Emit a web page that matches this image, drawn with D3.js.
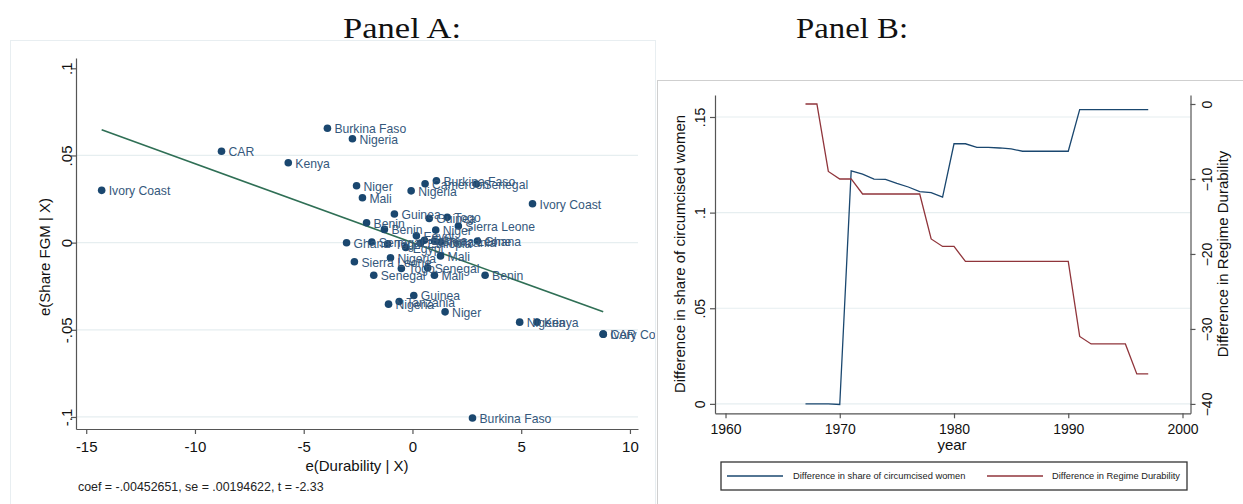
<!DOCTYPE html>
<html><head><meta charset="utf-8">
<script src="https://cdn.jsdelivr.net/npm/d3@7"></script>
<style>
html,body{margin:0;padding:0;background:#fff;}
svg{display:block;font-family:"Liberation Sans",Arial,sans-serif;}
</style></head>
<body>
<svg id="c" width="1243" height="504"></svg>
<script>
// ---------- Panel A data (added-variable plot) ----------
const countries = ["Ivory Coast","CAR","Kenya","Burkina Faso","Nigeria","Niger","Mali","Nigeria","Cameroon","Burkina Faso","Senegal","Ivory Coast","Guinea","Guinea","Togo","Benin","Benin","Niger","Sierra Leone","Ghana","Senegal","Togo","Egypt","Egypt","Eritrea","Sierra Leone","Ethiopia","Tanzania","Ghana","Mali","Nigeria","Sierra Leone","Togo","Senegal","Senegal","Mali","Benin","Guinea","Tanzania","Nigeria","Niger","Nigeria","Kenya","CAR","Ivory Coast","Burkina Faso"];
const durabilityResid = [-14.29,-8.78,-5.71,-3.91,-2.76,-2.57,-2.30,-0.06,0.58,1.10,2.94,5.52,-0.83,0.77,1.60,-2.11,-1.29,1.07,2.11,-3.03,-1.87,-1.14,-0.31,0.18,0.55,1.01,0.37,1.29,2.99,1.29,-1.01,-2.67,-0.51,0.70,-1.78,1.01,3.34,0.06,-0.61,-1.10,1.50,4.93,5.73,8.77,8.77,2.76];
const fgmResid = [0.0300,0.0524,0.0458,0.0656,0.0596,0.0326,0.0257,0.0297,0.0338,0.0355,0.0336,0.0223,0.0164,0.0139,0.0145,0.0114,0.0076,0.0072,0.0095,-0.0001,0.0003,-0.0007,-0.0028,0.0039,0.0014,0.0009,-0.0003,0.0003,0.0009,-0.0076,-0.0087,-0.0110,-0.0148,-0.0145,-0.0187,-0.0187,-0.0187,-0.0303,-0.0338,-0.0353,-0.0397,-0.0456,-0.0456,-0.0525,-0.0525,-0.1006];
const coef = -0.00452651;
const xTicksA = [-15,-10,-5,0,5,10];
const xTickLabelsA = ["-15","-10","-5","0","5","10"];
const yTicksA = [0.1,0.05,0,-0.05,-0.1];
const yTickLabelsA = [".1",".05","0","-.05","-.1"];
const noteA = "coef = -.00452651, se = .00194622, t = -2.33";

// ---------- Panel B data ----------
const years = [1967,1968,1969,1970,1971,1972,1973,1974,1975,1976,1977,1978,1979,1980,1981,1982,1983,1984,1985,1986,1987,1988,1989,1990,1991,1992,1993,1994,1995,1996,1997];
const diffShare = [0,0,0,-0.0003,0.1218,0.1201,0.1175,0.1174,0.1153,0.1134,0.1110,0.1105,0.1081,0.1360,0.1360,0.1341,0.1341,0.1338,0.1333,0.1321,0.1321,0.1321,0.1321,0.1321,0.1539,0.1539,0.1539,0.1539,0.1539,0.1539,0.1539];
const diffDurability = [0,0,-9,-10,-10,-12,-12,-12,-12,-12,-12,-18,-19,-19,-21,-21,-21,-21,-21,-21,-21,-21,-21,-21,-31,-32,-32,-32,-32,-36,-36];
const xTicksB = [1960,1970,1980,1990,2000];
const yTicksBL = [0,0.05,0.1,0.15];
const yTickLabelsBL = ["0",".05",".1",".15"];
const yTicksBR = [0,-10,-20,-30,-40];
const seriesNames = ["Difference in share of circumcised women","Difference in Regime Durability"];

const NAVY="#1a476f", MAROON="#90353b", GREEN="#2f6f55", GRID="#e6eef0", AXIS="#555";
const svg = d3.select("#c");

// panel frames
svg.append("rect").attr("x",10.5).attr("y",40.5).attr("width",645).attr("height",470).attr("fill","none").attr("stroke","#e8eef1");
svg.append("rect").attr("x",657.5).attr("y",80.5).attr("width",590).attr("height",430).attr("fill","none").attr("stroke","#cfcfcf");

// titles
svg.append("text").attr("x",402).attr("y",38).attr("text-anchor","middle")
  .attr("font-family","'Liberation Serif','DejaVu Serif',serif").attr("font-size",30)
  .attr("textLength",118).attr("lengthAdjust","spacingAndGlyphs").attr("fill","#111").text("Panel A:");
svg.append("text").attr("x",852).attr("y",38).attr("text-anchor","middle")
  .attr("font-family","'Liberation Serif','DejaVu Serif',serif").attr("font-size",30)
  .attr("textLength",112).attr("lengthAdjust","spacingAndGlyphs").attr("fill","#111").text("Panel B:");

// ================= PANEL A =================
const A = svg.append("g");
svg.append("clipPath").attr("id","clipA").append("rect").attr("x",10).attr("y",40).attr("width",645).attr("height",464);
const xA = d3.scaleLinear().domain([-15.47,10.37]).range([76,638]);
const yA = d3.scaleLinear().domain([-0.1069,0.1059]).range([429,58]);

// gridlines
A.selectAll("line.g").data(yTicksA.filter(d=>d<0.09)).enter().append("line")
  .attr("x1",76).attr("x2",638).attr("y1",d=>yA(d)).attr("y2",d=>yA(d))
  .attr("stroke",GRID).attr("stroke-width",1.2);

const axA = A.append("g").attr("transform","translate(0,429)")
  .call(d3.axisBottom(xA).tickValues(xTicksA).tickFormat((d,i)=>xTickLabelsA[i]).tickSize(5).tickSizeOuter(0));
const ayA = A.append("g").attr("transform","translate(76,0)")
  .call(d3.axisLeft(yA).tickValues(yTicksA).tickFormat((d,i)=>yTickLabelsA[i]).tickSize(5).tickSizeOuter(0));
[axA,ayA].forEach(g=>{g.select(".domain").attr("stroke",AXIS).attr("stroke-width",1.2);
  g.selectAll(".tick line").attr("stroke",AXIS).attr("stroke-width",1.2);
  g.selectAll("text").attr("font-size",15).attr("fill","#111").attr("font-family","'Liberation Sans',Arial,sans-serif");});
axA.selectAll("text").attr("dy",null).attr("y",23);
ayA.selectAll(".tick text").attr("x",null).attr("dy",null).attr("text-anchor","middle")
  .attr("transform","translate(-10,0) rotate(-90)").attr("dominant-baseline","central").attr("y",0);

// fit line
const xmin = d3.min(durabilityResid), xmax = d3.max(durabilityResid);
A.append("line").attr("x1",xA(xmin)).attr("y1",yA(coef*xmin)).attr("x2",xA(xmax)).attr("y2",yA(coef*xmax))
  .attr("stroke",GREEN).attr("stroke-width",1.6);

const pts = countries.map((c,i)=>({c,x:durabilityResid[i],y:fgmResid[i]}));
const PA = A.append("g").attr("clip-path","url(#clipA)");
PA.selectAll("circle").data(pts).enter().append("circle")
  .attr("cx",d=>xA(d.x)).attr("cy",d=>yA(d.y)).attr("r",3.8).attr("fill",NAVY);
PA.selectAll("text.lab").data(pts).enter().append("text").attr("class","lab")
  .attr("x",d=>xA(d.x)+7).attr("y",d=>yA(d.y)+1).attr("dominant-baseline","central")
  .attr("font-size",12.2).attr("fill","#35587c").text(d=>d.c);

A.append("text").attr("x",357).attr("y",471).attr("text-anchor","middle").attr("font-size",15).attr("fill","#111").text("e(Durability | X)");
A.append("text").attr("transform","translate(44,257) rotate(-90)").attr("text-anchor","middle")
  .attr("dominant-baseline","central").attr("font-size",15).attr("fill","#111").text("e(Share FGM | X)");
A.append("text").attr("x",78).attr("y",491).attr("font-size",12.4).attr("fill","#222").text(noteA);

// ================= PANEL B =================
const B = svg.append("g");
const xB = d3.scaleLinear().domain([1959.08,2000.7]).range([715,1190.5]);
const yBL = d3.scaleLinear().domain([-0.00493,0.1615]).range([413.3,95]);
const yBR = d3.scaleLinear().domain([-41.25,1.2]).range([413.3,95]);

B.selectAll("line.g").data(yTicksBL).enter().append("line")
  .attr("x1",715).attr("x2",1190.5).attr("y1",d=>yBL(d)).attr("y2",d=>yBL(d))
  .attr("stroke",GRID).attr("stroke-width",1.2);

const axB = B.append("g").attr("transform","translate(0,413.3)")
  .call(d3.axisBottom(xB).tickValues(xTicksB).tickFormat(d3.format("d")).tickSize(5).tickSizeOuter(0));
const ayBL = B.append("g").attr("transform","translate(715,0)")
  .call(d3.axisLeft(yBL).tickValues(yTicksBL).tickFormat((d,i)=>yTickLabelsBL[i]).tickSize(5).tickSizeOuter(0));
const ayBR = B.append("g").attr("transform","translate(1190.5,0)")
  .call(d3.axisRight(yBR).tickValues(yTicksBR).tickFormat(d3.format("d")).tickSize(5).tickSizeOuter(0));
[axB,ayBL,ayBR].forEach(g=>{g.select(".domain").attr("stroke",AXIS).attr("stroke-width",1.2);
  g.selectAll(".tick line").attr("stroke",AXIS).attr("stroke-width",1.2);
  g.selectAll("text").attr("font-size",14).attr("fill","#111").attr("font-family","'Liberation Sans',Arial,sans-serif");});
axB.selectAll("text").attr("dy",null).attr("y",21);
ayBL.selectAll(".tick text").attr("x",null).attr("dy",null).attr("text-anchor","middle")
  .attr("transform","translate(-15,0) rotate(-90)").attr("dominant-baseline","central").attr("y",0);
ayBR.selectAll(".tick text").attr("x",null).attr("dy",null).attr("text-anchor","middle")
  .attr("transform","translate(16,0) rotate(-90)").attr("dominant-baseline","central").attr("y",0);

const lineL = d3.line().x((d,i)=>xB(years[i])).y(d=>yBL(d));
const lineR = d3.line().x((d,i)=>xB(years[i])).y(d=>yBR(d));
B.append("path").attr("d",lineL(diffShare)).attr("fill","none").attr("stroke",NAVY).attr("stroke-width",1.3);
B.append("path").attr("d",lineR(diffDurability)).attr("fill","none").attr("stroke",MAROON).attr("stroke-width",1.3);

B.append("text").attr("x",952).attr("y",450).attr("text-anchor","middle").attr("font-size",15).attr("fill","#111").text("year");
B.append("text").attr("transform","translate(679,254) rotate(-90)").attr("text-anchor","middle")
  .attr("dominant-baseline","central").attr("font-size",15).attr("fill","#111").text(seriesNames[0]);
B.append("text").attr("transform","translate(1222,254) rotate(-90)").attr("text-anchor","middle")
  .attr("dominant-baseline","central").attr("font-size",15).attr("fill","#111").text(seriesNames[1]);

// legend
const L = B.append("g");
L.append("rect").attr("x",721).attr("y",462).attr("width",466).attr("height",28).attr("fill","#fff").attr("stroke","#333").attr("stroke-width",1.3);
const legX = [727,987], legTX=[793,1052], legCol=[NAVY,MAROON];
seriesNames.forEach((n,i)=>{
  L.append("line").attr("x1",legX[i]).attr("x2",legX[i]+56).attr("y1",476).attr("y2",476).attr("stroke",legCol[i]).attr("stroke-width",1.3);
  L.append("text").attr("x",legTX[i]).attr("y",476).attr("dominant-baseline","central").attr("font-size",9.3).attr("fill","#222").text(n);
});
</script>
</body></html>
